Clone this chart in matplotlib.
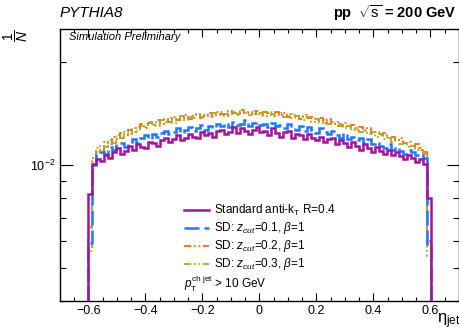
import matplotlib
matplotlib.use("Agg")
import matplotlib.pyplot as plt
import numpy as np
from matplotlib.lines import Line2D
from matplotlib.ticker import FixedLocator, MultipleLocator, NullFormatter, LogFormatterSciNotation

plt.rcParams["font.family"] = ["Liberation Sans", "DejaVu Sans"]
plt.rcParams["mathtext.fontset"] = "custom"
plt.rcParams["mathtext.rm"] = "Liberation Sans"
plt.rcParams["mathtext.it"] = "Liberation Sans:italic"
plt.rcParams["mathtext.bf"] = "Liberation Sans:bold"

# 1/N dN/deta per bin, in units of 1e-3; 86 bins of width 0.014 from -0.602 to 0.602
eta_lo, eta_hi, n_bins = -0.602, 0.602, 86

standard = [8.2, 10.1, 10.4, 10.3, 10.7, 10.5, 10.9, 11.2, 10.8, 11.0,
            11.4, 11.1, 11.5, 11.3, 11.2, 11.7, 11.6, 11.4, 11.8, 12.0,
            11.7, 11.9, 12.2, 11.8, 12.0, 12.3, 12.1, 12.0, 12.5, 12.2,
            12.4, 12.1, 12.6, 12.7, 12.3, 12.5, 12.9, 12.4, 12.8, 12.6,
            12.3, 12.7, 12.9, 12.5, 12.6, 12.2, 12.8, 12.4, 12.1, 12.5,
            12.6, 12.0, 12.3, 12.2, 11.9, 12.3, 12.0, 11.8, 12.1, 11.7,
            11.9, 12.0, 11.5, 11.8, 11.6, 11.3, 11.7, 11.4, 11.1, 11.5,
            11.2, 10.9, 11.3, 11.0, 10.8, 11.1, 10.7, 10.9, 10.6, 10.4,
            10.7, 10.5, 10.2, 10.4, 10.1, 8.0]

sd_01 = [5.9, 10.0, 10.7, 10.9, 10.8, 11.3, 11.1, 11.5, 11.6, 11.3,
         11.7, 11.9, 11.6, 12.0, 12.2, 11.9, 12.3, 12.1, 12.4, 12.6,
         12.3, 12.5, 12.8, 12.4, 12.7, 12.9, 12.6, 12.8, 13.1, 12.7,
         13.0, 12.8, 13.2, 13.0, 13.3, 12.9, 13.4, 13.1, 13.2, 13.5,
         13.0, 13.3, 13.4, 13.1, 13.2, 12.9, 13.3, 13.0, 13.1, 12.8,
         13.2, 12.9, 12.7, 13.0, 12.6, 12.9, 12.7, 12.4, 12.8, 12.5,
         12.3, 12.6, 12.2, 12.0, 12.4, 11.9, 12.1, 11.8, 12.0, 11.6,
         11.9, 11.5, 11.7, 11.4, 11.2, 11.5, 11.1, 11.3, 11.0, 10.8,
         11.1, 10.9, 10.7, 10.8, 10.5, 5.8]

sd_02 = [6.6, 10.5, 11.2, 11.0, 11.7, 11.5, 12.1, 11.9, 12.4, 12.2,
         12.7, 12.5, 12.9, 13.2, 12.8, 13.3, 13.1, 13.5, 13.2, 13.6,
         13.4, 13.8, 13.5, 13.7, 14.0, 13.6, 13.9, 14.1, 13.7, 14.0,
         14.2, 13.9, 14.3, 14.1, 13.9, 14.4, 14.2, 14.0, 14.5, 14.2,
         14.3, 14.1, 14.4, 14.0, 14.3, 14.2, 13.9, 14.3, 14.0, 14.2,
         13.8, 14.1, 13.9, 13.6, 14.0, 13.7, 13.8, 13.5, 13.7, 13.3,
         13.6, 13.2, 13.4, 13.0, 13.3, 12.9, 13.1, 12.7, 12.9, 12.6,
         12.8, 12.4, 12.5, 12.2, 12.4, 12.0, 12.1, 11.8, 12.0, 11.6,
         11.7, 11.4, 11.5, 11.1, 10.9, 6.0]

sd_03 = [5.6, 10.2, 10.9, 11.4, 11.3, 11.8, 11.6, 12.2, 12.0, 12.5,
         12.3, 12.8, 12.6, 13.0, 12.9, 13.4, 13.2, 13.0, 13.5, 13.4,
         13.7, 13.3, 13.6, 13.9, 13.5, 13.8, 13.7, 14.1, 13.8, 14.0,
         13.8, 14.2, 14.0, 14.3, 14.1, 14.0, 14.3, 14.1, 14.4, 14.2,
         14.0, 14.4, 14.1, 14.2, 13.9, 14.3, 14.1, 14.0, 14.2, 13.8,
         14.0, 13.7, 13.9, 13.8, 13.5, 13.8, 13.4, 13.6, 13.3, 13.5,
         13.2, 13.4, 13.0, 13.2, 12.8, 13.0, 12.7, 12.8, 12.5, 12.7,
         12.3, 12.5, 12.1, 12.3, 11.9, 12.1, 11.7, 11.8, 11.5, 11.6,
         11.3, 11.4, 11.1, 11.2, 10.8, 5.4]

labels = ["Standard anti-k$_{\\rm T}$ R=0.4",
          "SD: $z_{cut}$=0.1, $\\beta$=1",
          "SD: $z_{cut}$=0.2, $\\beta$=1",
          "SD: $z_{cut}$=0.3, $\\beta$=1"]
colors = ["#a2139f", "#1f78ff", "#ff6a13", "#aaaa22"]
styles = ["-", (0, (6, 2)), (0, (4, 1.5, 1, 1.5, 1, 1.5)), (0, (4, 1.5, 1, 1.5, 1, 1.5))]
widths = [1.8, 1.8, 1.3, 1.3]

ymin, ymax = 4e-3, 2.5e-2
W, H = 460, 334

fig = plt.figure(figsize=(4.6, 3.34), dpi=100)
ax = fig.add_axes([60 / W, 33 / H, 399 / W, 272 / H])

edges = np.linspace(eta_lo, eta_hi, n_bins + 1)
series = [standard, sd_01, sd_02, sd_03]
order = [2, 3, 1, 0]
for k in order:
    vals = np.array(series[k]) * 1e-3
    ax.stairs(vals, edges, baseline=ymin, color=colors[k], linestyle=styles[k],
              linewidth=widths[k], zorder=3 + (k == 0) + (k == 1))

ax.set_yscale("log")
ax.set_xlim(-0.7, 0.7)
ax.set_ylim(ymin, ymax)

ax.xaxis.set_major_locator(MultipleLocator(0.2))
ax.xaxis.set_minor_locator(MultipleLocator(0.05))
ax.xaxis.set_major_formatter(plt.FuncFormatter(
    lambda v, p: "0" if abs(v) < 1e-9 else f"{v:.1f}".replace("-", "\u2212")))
ax.yaxis.set_major_locator(FixedLocator([1e-2]))
ax.yaxis.set_major_formatter(LogFormatterSciNotation())
ax.yaxis.set_minor_locator(FixedLocator([4e-3, 5e-3, 6e-3, 7e-3, 8e-3, 9e-3, 2e-2]))
ax.yaxis.set_minor_formatter(NullFormatter())

ax.tick_params(axis="both", which="both", direction="in", top=True, right=True,
               labelsize=9, width=0.8)
ax.tick_params(axis="x", which="major", length=6, pad=3)
ax.tick_params(axis="x", which="minor", length=3)
ax.tick_params(axis="y", which="major", length=9, pad=3)
ax.tick_params(axis="y", which="minor", length=4.5)
for s in ax.spines.values():
    s.set_linewidth(1.0)

# legend drawn by hand, rows 18 px apart
row_y = [210, 228, 246, 264]
for lab, c, ls, w, yy in zip(labels, colors, styles, widths, row_y):
    fig.add_artist(Line2D([184 / W, 209 / W], [1 - yy / H, 1 - yy / H],
                          color=c, linestyle=ls, linewidth=w))
    fig.text(214 / W, 1 - yy / H, lab, fontsize=8.5, ha="left", va="center")

fig.text(184 / W, 1 - 284 / H, "$p_{\\rm T}^{\\rm ch\\ jet}$ > 10 GeV", fontsize=8.5,
         ha="left", va="center")
fig.text(60 / W, 1 - 13 / H, "PYTHIA8", fontsize=11, style="italic", ha="left", va="center")
fig.text(456 / W, 1 - 13 / H, "pp  $\\sqrt{\\rm s}$ = 200 GeV", fontsize=10.5,
         fontweight="bold", ha="right", va="center")
fig.text(69 / W, 1 - 37 / H, "Simulation Preliminary", fontsize=8, style="italic",
         ha="left", va="center")
fig.text(16 / W, 1 - 36 / H, "$\\dfrac{1}{N}$", fontsize=10, rotation=90,
         ha="center", va="center")
fig.text(449 / W, 1 - 321 / H, "$\\mathrm{\\eta}_{\\rm jet}$", fontsize=12,
         ha="center", va="center")

fig.savefig("out.png", dpi=100)
